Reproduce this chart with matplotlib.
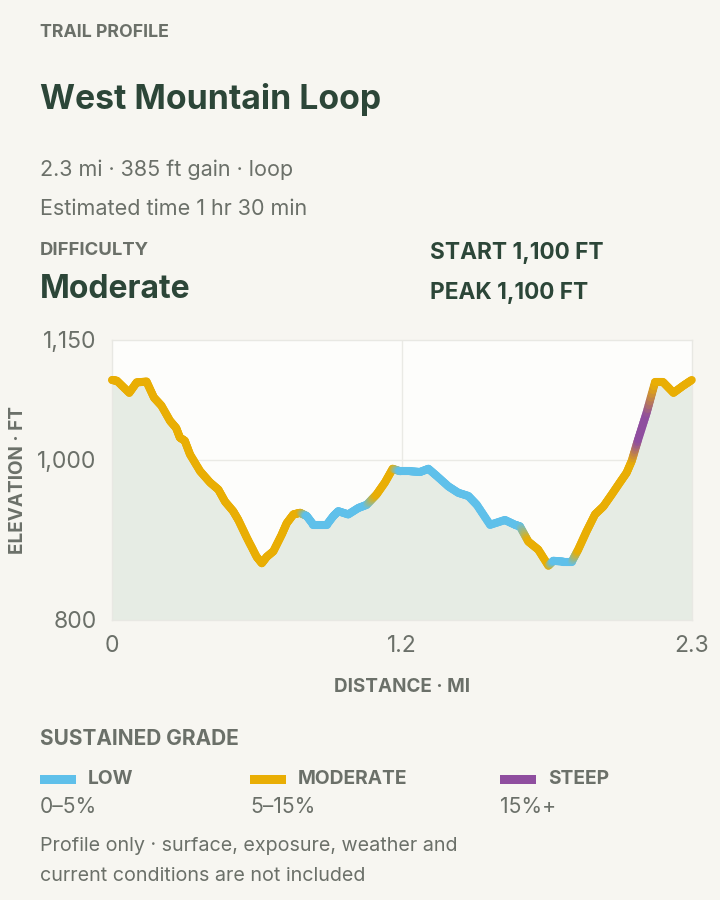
import matplotlib
matplotlib.use("Agg")
import matplotlib.pyplot as plt
import numpy as np
from matplotlib.collections import LineCollection
from matplotlib.colors import to_rgb
from matplotlib.patches import Rectangle

plt.rcParams['font.family'] = ['Inter', 'DejaVu Sans']

# elevation profile
dist_mi = [0.00, 0.02, 0.07, 0.10, 0.14, 0.17, 0.20, 0.235, 0.26, 0.275,
           0.295, 0.316, 0.357, 0.397, 0.431, 0.458, 0.491, 0.512, 0.546, 0.586,
           0.607, 0.627, 0.654, 0.688, 0.708, 0.735, 0.762, 0.789, 0.816, 0.870,
           0.897, 0.917, 0.957, 0.998, 1.032, 1.072, 1.106, 1.137, 1.167, 1.207,
           1.248, 1.282, 1.316, 1.363, 1.403, 1.444, 1.478, 1.532, 1.592, 1.633,
           1.653, 1.687, 1.727, 1.768, 1.788, 1.829, 1.863, 1.889, 1.923, 1.957,
           1.991, 2.025, 2.058, 2.085, 2.106, 2.132, 2.166, 2.200, 2.234, 2.275,
           2.315, 2.349]
elev_ft = [1100, 1099, 1084, 1097, 1098, 1078, 1068, 1049, 1040, 1028,
           1024, 1007, 986, 972, 963, 948, 936, 925, 903, 879,
           871, 879, 886, 907, 921, 932, 934, 930, 919, 919,
           930, 936, 932, 940, 944, 957, 972, 989, 986, 986,
           985, 989, 980, 967, 959, 955, 944, 919, 925, 919,
           917, 898, 888, 868, 874, 873, 873, 888, 911, 932,
           942, 957, 972, 984, 999, 1026, 1059, 1097, 1097, 1084,
           1093, 1100]
# sustained grade class at each point: L low, M moderate, S steep
grade_class = list("MMMMMMMMMM" "MMMMMMMMMM" "MMMMMMMLLL" "LLLLLMMMLL"
                   "LLLLLLLLLL" "LMMMLLLMMM" "MMMMMSSMMM" "MM")

x_max = 2.35
x_tick_labels = ["0", "1.2", "2.3"]
y_ticks = [800, 1000, 1150]
y_tick_labels = ["800", "1,000", "1,150"]

legend_names = ["LOW", "MODERATE", "STEEP"]
legend_ranges = ["0\u20135%", "5\u201315%", "15%+"]
legend_keys = ["L", "M", "S"]
grade_colors = {"L": "#5fc0ea", "M": "#e9ae04", "S": "#8f4e9f"}

BG = "#f7f6f1"
DARK = "#2c4638"
GRAY = "#6b7069"

fig = plt.figure(figsize=(7.2, 9), dpi=100, facecolor=BG)

def px(x, y):
    return x / 720, 1 - y / 900

# header
fig.text(*px(40, 37), "TRAIL PROFILE", fontsize=12.8, fontweight="bold", color=GRAY, va="baseline")
fig.text(*px(40, 109), "West Mountain Loop", fontsize=24.3, fontweight="bold", color=DARK, va="baseline")
fig.text(*px(40, 176), "2.3 mi \u00b7 385 ft gain \u00b7 loop", fontsize=15.5, color=GRAY, va="baseline")
fig.text(*px(40, 215), "Estimated time 1 hr 30 min", fontsize=15.5, color=GRAY, va="baseline")
fig.text(*px(40, 255), "DIFFICULTY", fontsize=13.3, fontweight="bold", color=GRAY, va="baseline")
fig.text(*px(40, 298), "Moderate", fontsize=23, fontweight="bold", color=DARK, va="baseline")
fig.text(*px(430, 259), "START 1,100 FT", fontsize=16.3, fontweight="bold", color=DARK, va="baseline")
fig.text(*px(430, 299), "PEAK 1,100 FT", fontsize=16.3, fontweight="bold", color=DARK, va="baseline")

# chart
ax = fig.add_axes([112 / 720, 1 - 620 / 900, 580 / 720, 280 / 900])
ax.set_facecolor("#fdfdfb")
ax.set_xlim(0, x_max)
ax.set_ylim(800, 1150)

x = np.array(dist_mi)
y = np.array(elev_ft)
ax.fill_between(x, y, 800, color="#e6ece4", lw=0, zorder=1)

ax.axhline(1000, color="#eaeae5", lw=1, zorder=0.5)
ax.axvline(x_max / 2, color="#eaeae5", lw=1, zorder=0.5)

# colour each segment, blending between point classes
segs, cols = [], []
n_sub = 8
for i in range(len(x) - 1):
    c0 = np.array(to_rgb(grade_colors[grade_class[i]]))
    c1 = np.array(to_rgb(grade_colors[grade_class[i + 1]]))
    for k in range(n_sub):
        t0, t1 = k / n_sub, (k + 1) / n_sub
        segs.append([(x[i] + (x[i + 1] - x[i]) * t0, y[i] + (y[i + 1] - y[i]) * t0),
                     (x[i] + (x[i + 1] - x[i]) * t1, y[i] + (y[i + 1] - y[i]) * t1)])
        cols.append(c0 + (c1 - c0) * (t0 + t1) / 2)
lc = LineCollection(segs, colors=cols, linewidths=5.8, capstyle="round", joinstyle="round", zorder=3)
lc.set_clip_on(False)
ax.add_collection(lc)

ax.set_xticks([0, x_max / 2, x_max])
ax.set_xticklabels(x_tick_labels)
ax.set_yticks(y_ticks)
ax.set_yticklabels(y_tick_labels)
ax.tick_params(length=0, labelsize=16.5, labelcolor=GRAY)
ax.tick_params(axis="y", pad=11)
ax.tick_params(axis="x", pad=11)
for s in ax.spines.values():
    s.set_color("#e8e8e3")
    s.set_linewidth(1)

fig.text(*px(402, 692), "DISTANCE \u00b7 MI", fontsize=13.6, fontweight="bold", color=GRAY,
         ha="center", va="baseline")
fig.text(*px(18, 480), "ELEVATION \u00b7 FT", fontsize=13.6, fontweight="bold", color=GRAY,
         ha="center", va="center", rotation=90)

# legend
fig.text(*px(40, 745), "SUSTAINED GRADE", fontsize=15, fontweight="bold", color=GRAY, va="baseline")
legend_x = [40, 250, 500]
for x0, name, rng, key in zip(legend_x, legend_names, legend_ranges, legend_keys):
    fig.patches.append(Rectangle(px(x0, 784), 36 / 720, 9 / 900, transform=fig.transFigure,
                                 color=grade_colors[key], lw=0))
    fig.text(*px(x0 + 48, 784), name, fontsize=13.8, fontweight="bold", color=GRAY, va="baseline")
    fig.text(*px(x0, 813), rng, fontsize=15.2, color=GRAY, va="baseline")

fig.text(*px(40, 851), "Profile only \u00b7 surface, exposure, weather and", fontsize=14.2,
         color=GRAY, va="baseline")
fig.text(*px(40, 881), "current conditions are not included", fontsize=14.2,
         color=GRAY, va="baseline")

fig.savefig("out.png", dpi=100, facecolor=BG)
